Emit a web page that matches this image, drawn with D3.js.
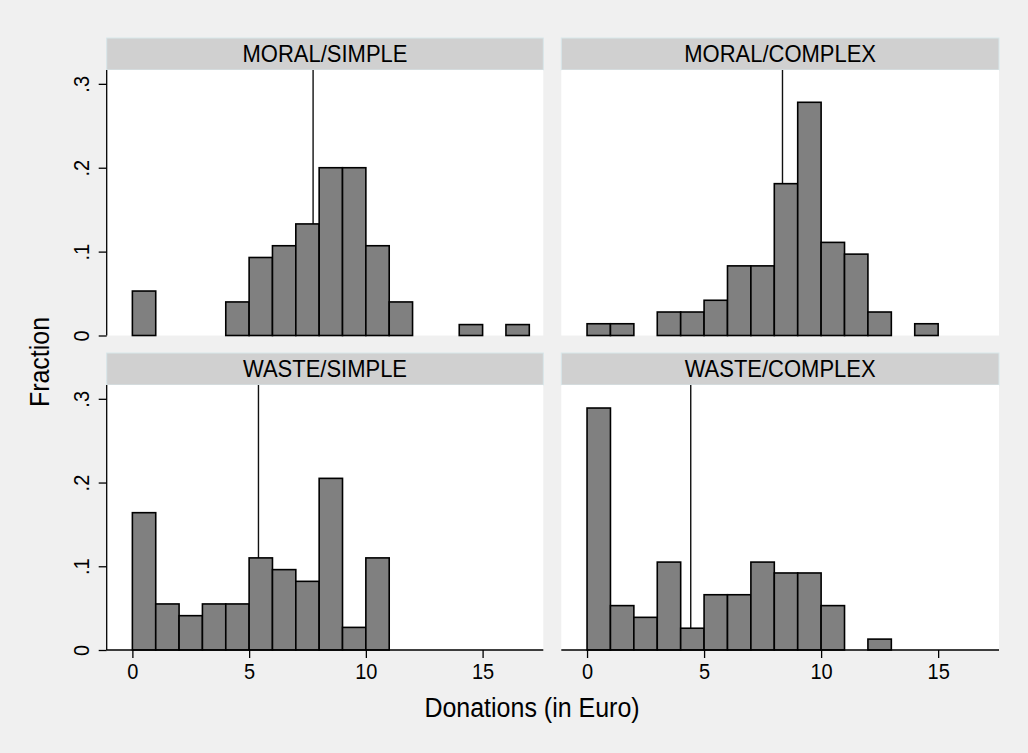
<!DOCTYPE html>
<html>
<head>
<meta charset="utf-8">
<script src="https://cdn.jsdelivr.net/npm/d3@7/dist/d3.min.js"></script>
<style>
  html, body { margin: 0; padding: 0; background: #f0f0f0; }
  svg { display: block; }
  text { font-family: "Liberation Sans", Arial, Helvetica, sans-serif; fill: #000; }
</style>
</head>
<body>
<svg id="chart" width="1028" height="753"></svg>
<script>
// ---- Data ----
const panelTitles = ["MORAL/SIMPLE", "MORAL/COMPLEX", "WASTE/SIMPLE", "WASTE/COMPLEX"];
const binStarts = [0,1,2,3,4,5,6,7,8,9,10,11,12,13,14,15,16];
const moralSimple  = [0.053,0,0,0,0.040,0.093,0.107,0.133,0.200,0.200,0.107,0.040,0,0,0.013,0,0.013];
const moralComplex = [0.014,0.014,0,0.028,0.028,0.042,0.083,0.083,0.181,0.278,0.111,0.097,0.028,0,0.014,0,0];
const wasteSimple  = [0.164,0.055,0.041,0.055,0.055,0.110,0.096,0.082,0.205,0.027,0.110,0,0,0,0,0,0];
const wasteComplex = [0.289,0.053,0.039,0.105,0.026,0.066,0.066,0.105,0.092,0.092,0.053,0,0.013,0,0,0,0];
const panelMeans = [7.74, 8.35, 5.40, 4.43];
const xTicks = [0, 5, 10, 15];
const yTicks = [0, 0.1, 0.2, 0.3];
const yTickLabels = ["0", ".1", ".2", ".3"];
const xTitle = "Donations (in Euro)";
const yTitle = "Fraction";

const series = [moralSimple, moralComplex, wasteSimple, wasteComplex];

// ---- Layout ----
const svg = d3.select("#chart");
svg.append("rect").attr("width", 1028).attr("height", 753).attr("fill", "#f0f0f0");

const cols = [[106.7, 543.3], [561.3, 999]];
const rows = [{strip: [38, 70], plot: [70, 335.5]}, {strip: [353, 385], plot: [385, 650]}];
const xDomain = [-1.1, 17.6];
const yDomain = [0, 0.3165];

panelTitles.forEach((title, i) => {
  const c = i % 2, r = Math.floor(i / 2);
  const [x0, x1] = cols[c];
  const row = rows[r];
  const x = d3.scaleLinear().domain(xDomain).range([x0, x1]);
  const y = d3.scaleLinear().domain(yDomain).range([row.plot[1], row.plot[0]]);
  const g = svg.append("g");

  // strip
  g.append("rect")
    .attr("x", x0).attr("y", row.strip[0])
    .attr("width", x1 - x0).attr("height", row.strip[1] - row.strip[0])
    .attr("fill", "#d0d0d0").attr("stroke", "#d8e7ea").attr("stroke-width", 1);
  g.append("text")
    .attr("transform", `translate(${(x0 + x1) / 2},${(row.strip[0] + row.strip[1]) / 2 + 8}) scale(1,1.08)`)
    .attr("text-anchor", "middle").attr("font-size", 22)
    .text(title);

  // plot region
  g.append("rect")
    .attr("x", x0).attr("y", row.plot[0])
    .attr("width", x1 - x0).attr("height", row.plot[1] - row.plot[0])
    .attr("fill", "#ffffff");

  // mean line (behind bars)
  g.append("line")
    .attr("x1", x(panelMeans[i])).attr("x2", x(panelMeans[i]))
    .attr("y1", y(yDomain[1])).attr("y2", y(0))
    .attr("stroke", "#111").attr("stroke-width", 1.4);

  // bars
  const bins = binStarts.map((b, k) => ({b, v: series[i][k]})).filter(d => d.v > 0);
  g.selectAll("rect.bar").data(bins).enter().append("rect")
    .attr("class", "bar")
    .attr("x", d => x(d.b)).attr("width", d => x(d.b + 1) - x(d.b))
    .attr("y", d => y(d.v)).attr("height", d => y(0) - y(d.v))
    .attr("fill", "#808080").attr("stroke", "#000").attr("stroke-width", 1.6);

  // y axis on left column
  if (c === 0) {
    const ay = g.append("g").attr("transform", `translate(${x0},0)`)
      .call(d3.axisLeft(y).tickValues(yTicks).tickSize(8).tickFormat((d, k) => yTickLabels[k]));
    ay.select(".domain").attr("d", `M0,${row.plot[0]}V${row.plot[1]}`).attr("stroke", "#000").attr("stroke-width", 1.3);
    ay.selectAll(".tick line").attr("stroke", "#000").attr("stroke-width", 1.3);
    ay.selectAll(".tick text")
      .attr("font-size", 20).attr("font-family", "Liberation Sans, Arial, sans-serif")
      .attr("fill", "#000")
      .attr("x", null).attr("dy", null)
      .attr("transform", "translate(-18,0) rotate(-90) scale(1,1.08)")
      .attr("text-anchor", "middle").attr("y", 0);
  }
  // x axis on bottom row
  if (r === 1) {
    const ax = g.append("g").attr("transform", `translate(0,${row.plot[1]})`)
      .call(d3.axisBottom(x).tickValues(xTicks).tickSize(8).tickFormat(d3.format("d")));
    ax.select(".domain").attr("d", `M${x0},0H${x1}`).attr("stroke", "#000").attr("stroke-width", 1.3);
    ax.selectAll(".tick line").attr("stroke", "#000").attr("stroke-width", 1.3);
    ax.selectAll(".tick text")
      .attr("font-size", 20).attr("font-family", "Liberation Sans, Arial, sans-serif")
      .attr("fill", "#000").attr("y", null).attr("dy", null)
      .attr("transform", "translate(0,29) scale(1,1.08)");
  }
});

// axis titles
svg.append("text")
  .attr("transform", "translate(532,717) scale(1,1.08)")
  .attr("text-anchor", "middle").attr("font-size", 25)
  .text(xTitle);
svg.append("text")
  .attr("transform", "translate(49,362) rotate(-90) scale(1,1.08)")
  .attr("text-anchor", "middle").attr("font-size", 25)
  .text(yTitle);
</script>
</body>
</html>
